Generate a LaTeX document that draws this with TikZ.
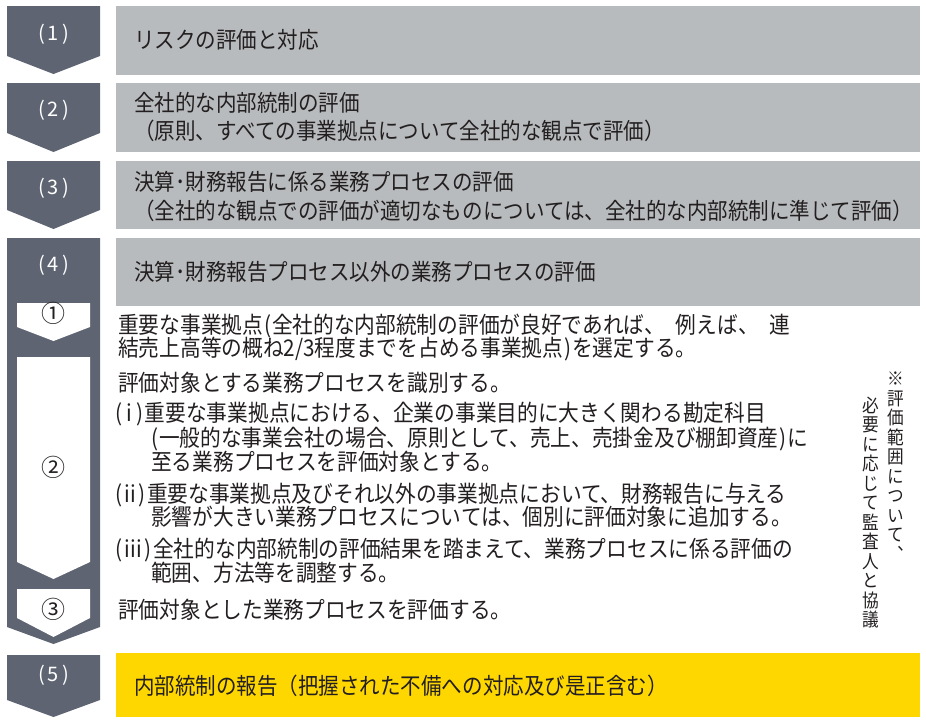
\documentclass[tikz,border=0pt]{standalone}
\usepackage{fontspec}
\newfontfamily\jp[FakeStretch=0.9]{Noto Sans CJK JP}
\newfontfamily\jpn{Noto Sans CJK JP}
\newfontfamily\jpv[RawFeature={+vert},FakeStretch=0.9]{Noto Sans CJK JP}
\definecolor{slate}{HTML}{5E6471}
\definecolor{boxgray}{HTML}{B8BBBD}
\definecolor{gold}{HTML}{FFD700}
\definecolor{ink}{HTML}{231F20}
\begin{document}
\begin{tikzpicture}[x=1pt,y=-1pt,
 chev/.style={fill=slate,draw=none},
 wchev/.style={fill=white,draw=none},
 bar/.style={fill=boxgray,draw=none},
 lab/.style={anchor=base,text=white,font=\jpn\fontsize{20}{22}\selectfont,inner sep=0},
 num/.style={anchor=base,text=ink,font=\jpn\fontsize{24}{26}\selectfont,inner sep=0},
 head/.style={anchor=base west,text=ink,font=\jp\fontsize{22.8}{26}\selectfont,inner sep=0},
 body/.style={anchor=base west,text=ink,font=\jp\fontsize{23}{26}\selectfont,inner sep=0},
 vch/.style={anchor=base,text=ink,font=\jpv\fontsize{18.5}{20}\selectfont,inner sep=0}]
\useasboundingbox (0,0) rectangle (926,723);
% heading bars
\fill[bar] (116,6) rectangle (920,75);
\fill[bar] (116,83) rectangle (920,152);
\fill[bar] (116,161) rectangle (920,229);
\fill[bar] (116,238) rectangle (920,306);
\fill[gold] (116,653) rectangle (920,717);
% chevrons
\fill[chev] (7,6) -- (100,6) -- (100,56) -- (53.5,74) -- (7,56) -- cycle;
\fill[chev] (7,83) -- (100,83) -- (100,133) -- (53.5,152) -- (7,133) -- cycle;
\fill[chev] (7,161) -- (100,161) -- (100,210) -- (53.5,229) -- (7,210) -- cycle;
\fill[chev] (7,238) -- (100,238) -- (100,627) -- (53.5,644) -- (7,627) -- cycle;
\fill[chev] (7,655) -- (100,655) -- (100,700) -- (53.5,717) -- (7,700) -- cycle;
\fill[wchev] (17,303) -- (90,303) -- (90,327) -- (53.5,341) -- (17,327) -- cycle;
\fill[wchev] (17,357) -- (90,357) -- (90,562) -- (53.5,579) -- (17,562) -- cycle;
\fill[wchev] (17,589) -- (90,589) -- (90,618) -- (53.5,637) -- (17,618) -- cycle;
% chevron labels
\node[lab] (l1) at (53.5,40.6) {(\kern3pt1\kern3pt)};
\node[lab] (l2) at (53.5,116.6) {(\kern3pt2\kern3pt)};
\node[lab] (l3) at (53.5,194.6) {(\kern3pt3\kern3pt)};
\node[lab] (l4) at (53.5,271.6) {(\kern3pt4\kern3pt)};
\node[lab] (l5) at (53.5,681.6) {(\kern3pt5\kern3pt)};
\node[num] (c1) at (53.5,322.6) {①};
\node[num] (c2) at (53.5,476.1) {②};
\node[num] (c3) at (53.5,618.1) {③};
% headings
\node[head] (h1) at (134,48.7) {リスクの評価と対応};
\node[head] (h2a) at (134,111.7) {全社的な内部統制の評価};
\node[head] (h2b) at (134,139.7) {（原則、すべての事業拠点について全社的な観点で評価）};
\node[head] (h3a) at (134,190.7) {決算･財務報告に係る業務プロセスの評価};
\node[head] (h3b) at (134,219.7) {（全社的な観点での評価が適切なものについては、全社的な内部統制に準じて評価）};
\node[head] (h4) at (134,280.7) {決算･財務報告プロセス以外の業務プロセスの評価};
\node[head] (h5) at (134,694.7) {内部統制の報告（把握された不備への対応及び是正含む）};
% body
\node[body] (b1) at (118,333.7) {\hbox to 672pt{重要な事業拠点\kern1pt(\kern1pt 全社的な内部統制の評価が良好であれば、\hfill 例えば、\hfill 連}};
\node[body] (b2) at (118,356.7) {結売上高等の概ね2/3程度までを占める事業拠点\kern1pt)\kern1pt を選定する。};
\node[body] (b3) at (118,391.7) {評価対象とする業務プロセスを識別する。};
\node[body] (b4) at (118,421.7) {\kern-3pt(\kern4.5pt i\kern4.5pt)\kern1pt 重要な事業拠点における、企業の事業目的に大きく関わる勘定科目};
\node[body] (b5) at (151,446.7) {(\kern1pt 一般的な事業会社の場合、原則として、売上、売掛金及び棚卸資産\kern1pt)\kern1pt に};
\node[body] (b6) at (151,470.7) {至る業務プロセスを評価対象とする。};
\node[body] (b7) at (118,502.7) {\kern-3pt(\kern2.5pt ii\kern2.5pt)\kern1.5pt 重要な事業拠点及びそれ以外の事業拠点において、財務報告に与える};
\node[body] (b8) at (151,525.7) {影響が大きい業務プロセスについては、個別に評価対象に追加する。};
\node[body] (b9) at (118,557.7) {\kern-3pt(\kern2.5pt iii\kern2.5pt)\kern2pt 全社的な内部統制の評価結果を踏まえて、業務プロセスに係る評価の};
\node[body] (b10) at (151,581.7) {範囲、方法等を調整する。};
\node[body] (b11) at (118,618.7) {評価対象とした業務プロセスを評価する。};
% vertical note
\foreach \c [count=\i] in {※,評,価,範,囲,に,つ,い,て,、}
  \node[vch] (vr\i) at (896,366.3+19.5*\i) {\c};
\foreach \c [count=\i] in {必,要,に,応,じ,て,監,査,人,と,協,議}
  \node[vch] (vl\i) at (871,392.8+19.5*\i) {\c};
\end{tikzpicture}
\end{document}
